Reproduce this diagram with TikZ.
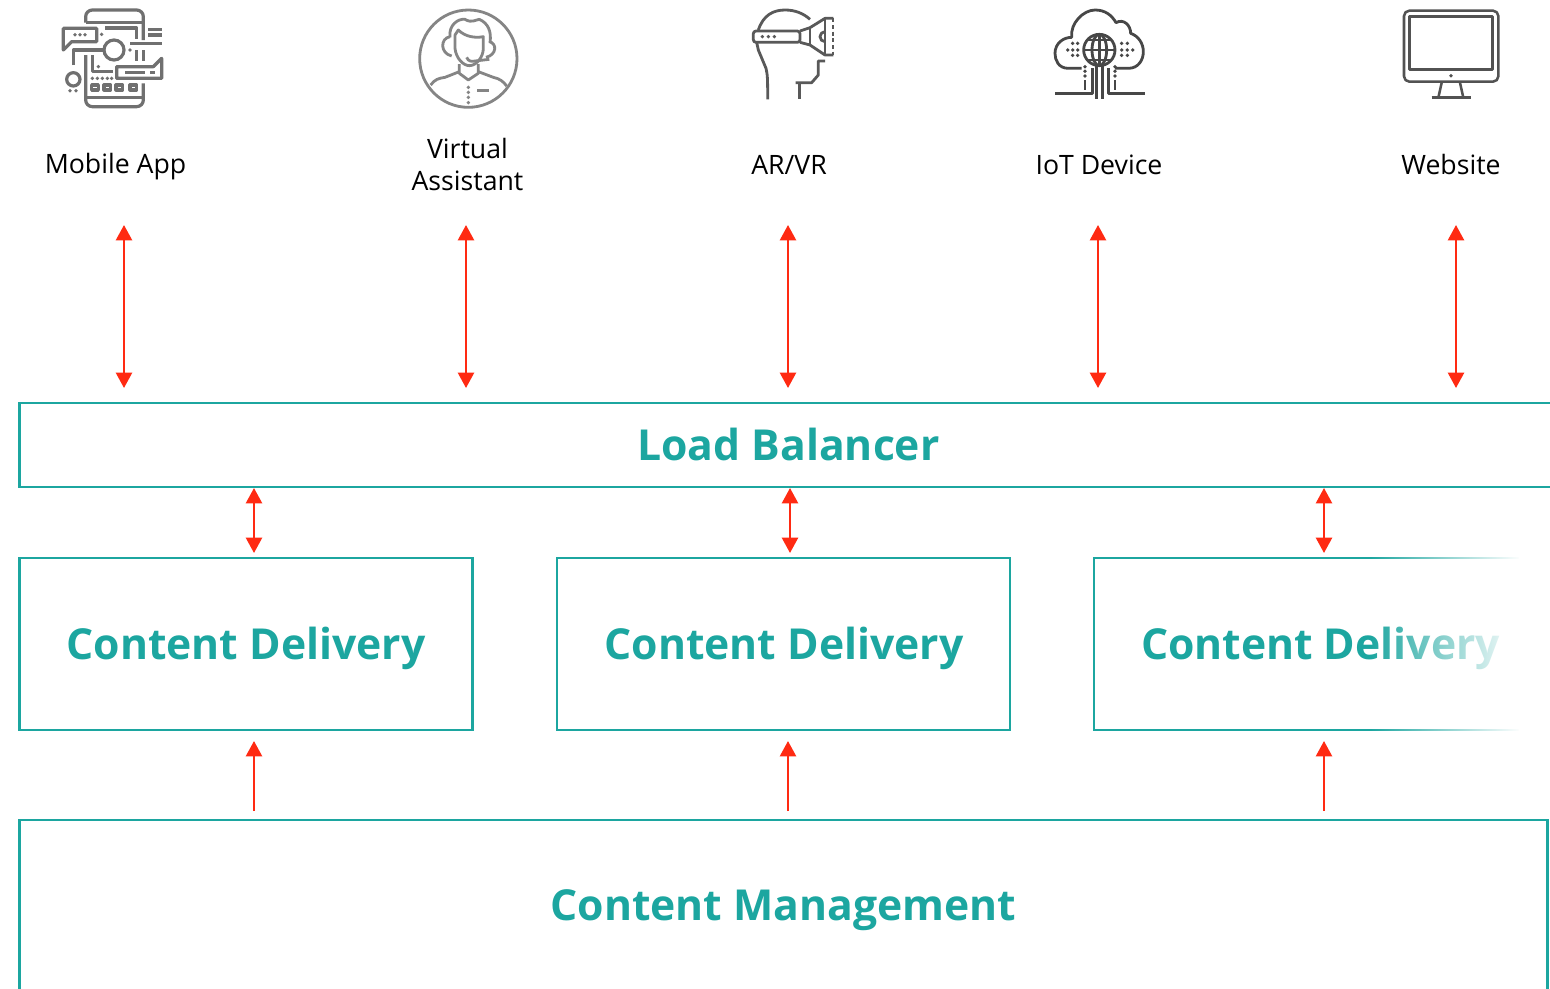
\documentclass[tikz,border=0pt]{standalone}
\usepackage{fontspec}
\setmainfont{Open Sans}
\usetikzlibrary{arrows.meta,fadings}
\definecolor{teal1}{HTML}{1CA6A0}
\definecolor{red1}{HTML}{FF2A12}
\tikzfading[name=fadeRight,left color=transparent!100,right color=transparent!0]
\tikzset{
  box/.style={draw=teal1,line width=2.1pt,fill=white,inner sep=0pt,outer sep=0pt,anchor=north west},
  head/.style={text=teal1,font=\fontsize{32}{38}\selectfont\bfseries,anchor=base,inner sep=0pt},
  lab/.style={text=black,font=\fontsize{20}{24}\selectfont,anchor=base,inner sep=0pt},
  both/.style={draw=red1,line width=1.8pt,{Triangle[width=12pt,length=11.5pt]}-{Triangle[width=12pt,length=11.5pt]}},
  up/.style={draw=red1,line width=1.8pt,-{Triangle[width=12pt,length=11.5pt]}},
  icon/.style={line width=2.1pt,line join=round,line cap=butt,x=0.25pt,y=-0.25pt},
}
\newcommand{\dotsq}[3]{\fill[#1] (#2,#3) circle[radius=1.4pt];}
\begin{document}
\begin{tikzpicture}[x=0.75pt,y=-0.75pt]
\useasboundingbox (0,0) rectangle (1550,989);
\clip (0,0) rectangle (1550,989);
\fill[white] (0,0) rectangle (1550,989);
% boxes
\node[box,minimum width=1541*0.75pt,minimum height=84*0.75pt] (lb) at (19.5,403) {};
\node[box,minimum width=453*0.75pt,minimum height=172*0.75pt] (cd1) at (19.5,558) {};
\node[box,minimum width=453*0.75pt,minimum height=172*0.75pt] (cd2) at (557,558) {};
\node[box,minimum width=453*0.75pt,minimum height=172*0.75pt] (cd3) at (1094,558) {};
\node[box,minimum width=1528*0.75pt,minimum height=200*0.75pt] (cm) at (19.5,820) {};
\node[head] (tlb) at (788.5,460) {Load Balancer};
\node[head] (t1) at (246,659) {Content Delivery};
\node[head] (t2) at (784,659) {Content Delivery};
\node[head] (t3) at (1320.5,659) {Content Delivery};
\node[head] (tcm) at (783.5,920) {Content Management};
% fade of third box
\fill[white,path fading=fadeRight] (1370,545) rectangle (1520,745);
\fill[white] (1519,545) rectangle (1550,745);
% labels
\node[lab] (l1) at (115.5,173) {Mobile App};
\node[lab] (l2a) at (467.5,158) {Virtual};
\node[lab] (l2b) at (467.5,190) {Assistant};
\node[lab] (l3) at (789,174) {AR/VR};
\node[lab] (l4) at (1099,174) {IoT Device};
\node[lab] (l5) at (1451,174) {Website};
% connector ends
\foreach \n/\x in {a/124,b/466,c/788,d/1098,e/1456}{
  \coordinate (\n t) at (\x,225);
  \coordinate (\n b) at (\x,388);
  \draw[both] (\n t) -- (\n b);
}
\foreach \n/\x in {f/254,g/790,h/1324}{
  \coordinate (\n t) at (\x,488);
  \coordinate (\n b) at (\x,553);
  \draw[both] (\n t) -- (\n b);
}
\foreach \n/\x in {i/254,j/788,k/1324}{
  \coordinate (\n t) at (\x,741);
  \coordinate (\n b) at (\x,811);
  \draw[up] (\n b) -- (\n t);
}
% mobile icon
\begin{scope}[shift={(40,0)},icon,line width=2.4pt,draw=black!56,fill=black!56]
\draw (137,68) -- (137,50) arc[start angle=180,end angle=90,radius=5pt] -- (290,30) arc[start angle=90,end angle=0,radius=5pt] -- (310,120);
\draw (137,68) -- (310,68);
\draw (195,84) -- (290,84) -- (290,118);
\draw (70,85) -- (170,85) -- (170,125) -- (95,125) -- (70,150) -- cycle;
\foreach \q in {105,120,135} {\dotsq{black!56}{\q}{104}}
\dotsq{black!56}{185}{103}
\draw (325,88) -- (365,88) (325,105) -- (365,105);
\draw (222,150) circle[radius=7.5pt];
\draw (270,130) -- (365,130);
\draw (100,195) -- (100,150) -- (190,150);
\dotsq{black!56}{270}{150}
\draw (290,150) -- (290,182) (310,150) -- (310,182);
\draw (137,165) -- (137,300) arc[start angle=180,end angle=270,radius=5pt] -- (290,320) arc[start angle=270,end angle=360,radius=5pt] -- (310,250);
\draw (157,165) -- (157,215) -- (218,215);
\dotsq{black!56}{175}{200}
\draw (230,200) -- (340,200) -- (365,175) -- (365,235) -- (230,235) -- cycle;
\draw (255,217) -- (315,217) (330,217) -- (345,217);
\foreach \q in {157,172,187,202,215} {\dotsq{black!56}{\q}{235}}
\draw (100,238) circle[radius=5pt];
\dotsq{black!56}{90}{272}\dotsq{black!56}{108}{272}
\foreach \q in {155,192,228,270} {\draw (\q,255) rectangle (\q+20,270);}
\draw (137,292) -- (310,292);
\end{scope}
% assistant icon
\begin{scope}[shift={(400,0)},icon,draw=black!48]
\draw (205,176) circle[radius=36.5pt];
\draw (150,112) .. controls (145,75) and (175,55) .. (195,58) .. controls (215,70) and (225,60) .. (238,58) .. controls (265,70) and (275,95) .. (270,128);
\draw (150,110) .. controls (120,115) and (120,160) .. (155,168);
\draw (268,125) .. controls (292,130) and (290,165) .. (258,172);
\draw (165,105) -- (165,145) .. controls (168,175) and (190,197) .. (208,197) .. controls (230,197) and (250,170) .. (250,145) -- (250,110) .. controls (225,115) and (195,110) .. (175,90) -- cycle;
\draw (200,172) .. controls (205,185) and (215,185) .. (225,183) -- (268,178);
\draw (178,192) -- (178,220) -- (205,240) -- (235,220) -- (235,192);
\draw (92,255) .. controls (105,238) and (115,235) .. (135,232) -- (178,215);
\draw (235,215) -- (280,232) .. controls (300,236) and (310,245) .. (320,258);
\foreach \q in {262,277,292,308} {\dotsq{black!48}{205}{\q}}
\draw (232,272) -- (268,272);
\end{scope}
% VR icon
\begin{scope}[shift={(730,0)},icon,draw=black!65]
\draw (85,90) .. controls (100,45) and (130,30) .. (165,30) .. controls (195,30) and (220,40) .. (240,58);
\draw[rounded corners=2pt] (70,93) rectangle (210,127);
\foreach \q in {97,115,133} {\dotsq{black!65}{\q}{110}}
\draw (210,93) -- (240,83) -- (285,55) -- (310,55);
\draw (210,127) -- (240,135) -- (285,165) -- (310,165);
\draw (240,83) -- (240,135) (285,55) -- (285,165);
\draw[densely dashed,line width=1.4pt] (310,55) -- (310,165);
\draw (285,95) arc[start angle=90,end angle=270,radius=3.75pt];
\draw (80,127) -- (85,150) -- (108,205) .. controls (113,225) and (113,240) .. (113,298);
\draw (285,183) -- (265,183) -- (265,225) -- (245,248) -- (197,248);
\draw (208,248) -- (208,298);
\end{scope}
% cloud icon
\begin{scope}[shift={(1040,0)},icon,draw=black!72]
\draw (125,205) -- (85,205) .. controls (55,205) and (45,180) .. (45,160) .. controls (45,130) and (70,112) .. (95,112) .. controls (90,70) and (130,30) .. (165,30) .. controls (195,30) and (215,45) .. (228,68) .. controls (250,55) and (272,75) .. (272,100) .. controls (295,108) and (310,130) .. (310,155) .. controls (310,180) and (295,205) .. (265,205) -- (225,205);
\draw (178,150) circle[radius=11.75pt];
\draw (178,150) ellipse[x radius=5.5pt,y radius=11.75pt];
\draw (178,103) -- (178,197);
\draw (131,150) -- (225,150) (145,120) -- (211,120) (145,180) -- (211,180);
\draw (170,197) -- (170,298) (187,197) -- (187,298);
\draw (157,205) -- (157,280) -- (45,280);
\draw (205,205) -- (205,280) -- (315,280);
\foreach \q in {200,214,228} {\dotsq{black!72}{135}{\q}\dotsq{black!72}{225}{\q}}
\draw (135,240) -- (135,270) (225,240) -- (225,270);
\foreach \p/\q in {98/130,113/130,98/150,83/150,113/150,98/166,113/166,245/130,262/130,245/150,262/150,278/150,245/166,262/166} {\dotsq{black!72}{\p}{\q}}
\end{scope}
% monitor icon
\begin{scope}[shift={(1390,0)},icon,line width=1.9pt,draw=black!68]
\draw[rounded corners=4pt] (42,32) rectangle (325,245);
\draw (58,50) rectangle (308,208);
\dotsq{black!68}{183}{227}
\draw (155,248) -- (145,293) (210,248) -- (220,293);
\draw (125,293) -- (243,293);
\end{scope}
\end{tikzpicture}
\end{document}
